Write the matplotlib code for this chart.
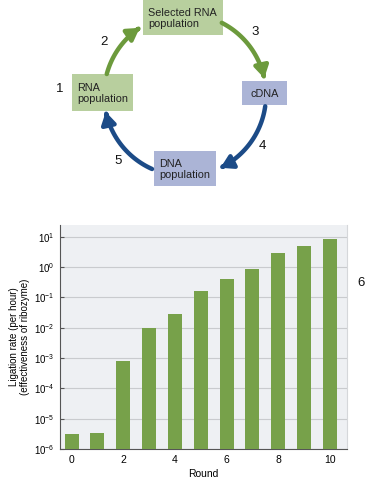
import matplotlib
matplotlib.use('Agg')
import matplotlib.pyplot as plt
import numpy as np
from matplotlib.patches import Rectangle, FancyArrowPatch
from matplotlib.path import Path

plt.rcParams['font.family'] = ['Liberation Sans', 'DejaVu Sans']
plt.rcParams['mathtext.fontset'] = 'custom'
plt.rcParams['mathtext.rm'] = 'Liberation Sans'

# data
rounds = [0, 1, 2, 3, 4, 5, 6, 7, 8, 9, 10]
ligation_rate = [3.2e-6, 3.3e-6, 8.0e-4, 1.0e-2, 2.8e-2, 0.16, 0.40, 0.85, 3.0, 4.8, 8.1]
xtick_vals = [0, 2, 4, 6, 8, 10]

# cycle diagram texts
step_labels = ['1', '2', '3', '4', '5', '6']
box_texts = ['RNA\npopulation', 'Selected RNA\npopulation', 'cDNA', 'DNA\npopulation']

green = '#77a14a'
box_green = '#b8cf9e'
box_blue = '#abb4d6'
arrow_green = '#6c9a3c'
arrow_blue = '#1c4b87'

fig = plt.figure(figsize=(3.67, 4.79), dpi=100)

# ---- bar chart ----
ax = fig.add_axes([60 / 367, 30 / 479, 287 / 367, 224 / 479])
ax.set_facecolor('#eef0f3')
ax.bar(rounds, ligation_rate, width=0.54, color=green, zorder=3)
ax.set_yscale('log')
ax.set_ylim(1e-6, 10 ** 1.385)
ax.set_xlim(-0.45, 10.66)
ax.set_yticks([10.0 ** k for k in range(-6, 2)])
ax.set_yticklabels([r'$10^{%d}$' % k for k in range(-6, 2)])
ax.yaxis.set_minor_locator(matplotlib.ticker.NullLocator())
ax.set_xticks(xtick_vals)
ax.grid(axis='y', color='#c9cbce', lw=0.8, zorder=1)
ax.tick_params(axis='y', direction='in', length=3, width=0.8, color='#555555',
               labelsize=7, pad=4)
ax.tick_params(axis='x', length=0, labelsize=7.5, pad=4)
ax.spines['top'].set_visible(False)
ax.spines['right'].set_color('#d5d7da')
ax.spines['left'].set_color('#555555')
ax.spines['bottom'].set_color('#555555')
ax.set_xlabel('Round', fontsize=7.5, labelpad=3)
ax.set_ylabel('Ligation rate (per hour)\n(effectiveness of ribozyme)', fontsize=7,
              labelpad=3, linespacing=1.1)

# ---- cycle diagram (pixel coordinates) ----
d = fig.add_axes([0, 0, 1, 1], zorder=-1)
d.set_xlim(0, 367)
d.set_ylim(479, 0)
d.axis('off')

boxes = [(72, 74, 61, 37, box_green), (143, 0, 80, 35, box_green),
         (242, 81, 45, 24, box_blue), (154, 151, 62, 35, box_blue)]
for (x, y, w, h, c), t in zip(boxes, box_texts):
    d.add_patch(Rectangle((x, y), w, h, facecolor=c, edgecolor='none'))
    if t == 'cDNA':
        d.text(x + w / 2, y + h / 2 + 1, t, ha='center', va='center', fontsize=7.8, color='#222222')
    else:
        d.text(x + 5, y + h / 2 + 1, t, ha='left', va='center', fontsize=7.8,
               color='#222222', linespacing=1.05)

cx, cy, r = 185, 95, 81
arcs = [(195, 236, arrow_green), (297, 348, arrow_green),
        (8, 64, arrow_blue), (114, 168, arrow_blue)]
for a0, a1, c in arcs:
    t = np.radians(np.linspace(a0, a1, 40))
    pts = np.column_stack([cx + r * np.cos(t), cy + r * np.sin(t)])
    p = FancyArrowPatch(path=Path(pts), arrowstyle='-|>,head_length=7,head_width=4.2',
                        color=c, lw=3.2, mutation_scale=1, shrinkA=0, shrinkB=0)
    d.add_patch(p)

num_pos = [(60, 89), (104, 42), (255, 32), (262, 146), (118, 161), (361, 283)]
for (x, y), s in zip(num_pos, step_labels):
    d.text(x, y, s, ha='center', va='center', fontsize=9.5, color='#111111')

fig.savefig('out.png', dpi=100)
